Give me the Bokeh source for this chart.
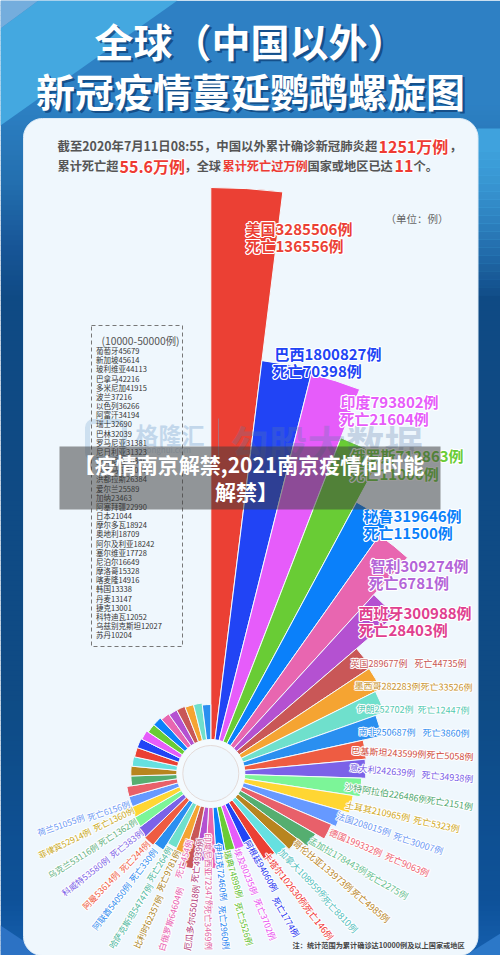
import numpy as np
from bokeh.plotting import figure, ColumnDataSource
from bokeh.core.properties import value
from bokeh.embed import file_html
from bokeh.resources import INLINE

# ---------- data ----------
countries = ["美国","巴西","印度","俄罗斯","秘鲁","智利","西班牙","英国","墨西哥","伊朗","南非","巴基斯坦",
             "意大利","沙特阿拉伯","土耳其","法国","德国","孟加拉","哥伦比亚","加拿大","卡塔尔","阿根廷","埃及","瑞典",
             "伊拉克","印度尼西亚","厄瓜多尔","白俄罗斯","比利时","哈萨克斯坦","阿联酋","阿曼","科威特","乌克兰","菲律宾","荷兰"]
cases = [3285506,1800827,793802,712863,319646,309274,300988,289677,282283,252702,250687,243599,
         242639,226486,210965,208015,199332,178443,133973,108959,102630,94060,80235,74898,
         72460,72347,65018,64604,62357,54747,54050,53614,53580,53116,52914,51055]
deaths = [136556,70398,21604,11000,11500,6781,28403,44735,33526,12447,3860,5058,
          34938,2151,5323,30007,9063,2275,4985,8810,146,1774,3702,5526,
          2960,3469,4939,454,9781,264,330,244,383,1362,1360,6156]
list_names = ["葡萄牙","新加坡","玻利维亚","巴拿马","多米尼加","波兰","以色列","阿富汗","瑞士","巴林","罗马尼亚","尼日利亚",
              "亚美尼亚","危地马拉","洪都拉斯","爱尔兰","加纳","阿塞拜疆","日本","摩尔多瓦","奥地利","阿尔及利亚","塞尔维亚",
              "尼泊尔","摩洛哥","喀麦隆","韩国","丹麦","捷克","科特迪瓦","乌兹别克斯坦","苏丹"]
list_cases = [45679,45614,44113,42216,41915,37216,36266,34194,32690,32039,31381,31323,
              30346,27037,26384,25589,23463,22990,21044,18924,18709,18242,17728,
              16649,15328,14916,13338,13147,13001,12052,12027,10204]
small_wedges = list_cases[:15]

# radial scale of the rose: case count -> pixel radius
scale_cases = cases + small_wedges
scale_px = [586,416,412,360,308,292,242,192,190,184,175,156,155,151,144,136,131,121,109,105,102,77,80,79,
            78,95,88,97,85,82,90,92,91,88,87,85,
            85,80,80,79,78,78,77,75,75,73,72,72,71,71,69]
palette = ["#EB4034","#2144F5","#E65CFA","#69CC35","#0A80FA","#E866B0","#B451D1","#C95757","#F5A432","#6FE0CC",
           "#2A8FF0","#EE5C42","#7B62E8","#7CF598","#FFD633","#6699FF","#E8606A","#55AE70","#B8851F","#66E0E0"]

# ---------- layout tables ----------
W, H = 500, 955
FONT = value("Noto Sans CJK SC")
CX, CY = 210.3, H - 773

top_colors = ["#EB4034","#2144F5","#E65CFA","#69CC35","#0A80FA","#B465D8","#E0408F"]
top_x1 = [245,274,340,350,363,370,358]; top_y1 = [228,353,401,455,515,565,612]
top_x2 = [245,272,339,349,363,368,358]; top_y2 = [245,370,418,473,532,582,629]

low_colors = ["#C85555","#C8922A","#4FC8B0","#2E8CF0","#D04A3C","#7A60E8","#4FA86F","#D0A820","#6A98F5","#EE6070",
              "#66C090","#B8851F","#50C0C0","#F03030","#2030F0","#E850F0","#60C030","#1A80F0","#E060A0","#B03878",
              "#E860B0","#A88018","#50B8A0","#2E8CF0","#F05A40","#7A60E8","#60B080","#C8A820","#6A98F5"]
low_x1 = [350,354,356,358,351,349,344,345,336,329,309,294,280,265,247,237,227,218,208,186,160,135,110,93,83,62,48,38,37]
low_y1 = [663,685,708,731,750,767,786,804,815,831,839,841,850,853,840,848,850,843,833,950,950,947,947,928,907,893,875,855,832]
low_x2 = [414,420,417,422,426,421,426,413,393,385,366,352,323,305,275,257,238,222,208,193,177,158,148,130,120,110,98,93,87]
low_y2 = [663,686,709,732,754,774,799,819,835,855,873,890,897,905,897,898,902,905,905,882,877,890,880,880,870,855,843,828,817]
low_ang = [0,-1,-1,-1,-3,-5,-9,-12,-18,-23,-30,-40,-46,-52,-60,-68,-74,-84,-89,82,73,65,58,52,46,38,32,26,19]

p = figure(width=W, height=H, x_range=(0, W), y_range=(0, H), toolbar_location=None,
           output_backend="svg", min_border=0)
p.axis.visible = False
p.grid.visible = False
p.outline_line_color = None
p.styles = {"position": "absolute", "left": "0", "top": "0"}

def put(x, y, text, color, size, bold=False, align="left", base="middle", angle=0.0, alpha=1.0):
    return p.text([x], [H - y], text=[text], text_color=color, text_font=FONT,
                  text_font_size=f"{size}px", text_font_style="bold" if bold else "normal",
                  text_align=align, text_baseline=base, angle=[np.radians(angle)], text_alpha=alpha)

def halo_text(x, y, text, color, size, bold=False, angle=0.0, d=1.0):
    for a in np.radians(np.arange(0, 360, 45)):
        put(x + d*np.cos(a), y + d*np.sin(a), text, "#FFFFFF", size, bold, angle=angle)
    put(x, y, text, color, size, bold, angle=angle)

# ---------- background ----------
stops_y = [0,100,180,250,300,700,900,955]
stops_c = [(0x2F,0x80,0xC4),(0x2E,0x82,0xC5),(0x24,0x70,0xB0),(0x17,0x55,0x96),(0x0F,0x4A,0x84),(0x0F,0x4C,0x86),(0x0E,0x52,0x99),(0x16,0x60,0xB0)]
ys = np.arange(0, H, 5)
cols = []
for yy in ys:
    c = [int(np.interp(yy + 2.5, stops_y, [s[i] for s in stops_c])) for i in range(3)]
    cols.append("#%02X%02X%02X" % tuple(c))
p.quad(left=0, right=W, top=H - ys, bottom=H - ys - 5.5, fill_color=cols, line_color=None)

p.patch([38,177,0,0],[H,H,H-125,H-28], fill_color="#44A8E0", line_color=None)
p.patch([0,38,0],[H,H,H-28], fill_color="#74ADDD", line_color=None)
for i, a in enumerate(np.linspace(0.95, 0.0, 20)):
    top = 143 + i * 8
    p.quad(left=477, right=W, top=H - top if i else H - 128, bottom=H - top - 8.5,
           fill_color="#40A4DE", fill_alpha=float(a), line_color=None)
p.patch([0,45,0],[0,0,30], fill_color="#2C72C4", line_color=None)
p.patch([W,W-35,W],[0,0,22], fill_color="#2C78C8", line_color=None)

# ---------- panel ----------
def rounded(l, r, t, b, rad):
    xs, yy = [], []
    for cx, cy, a0 in [(r-rad, t+rad, -90), (r-rad, b-rad, 0), (l+rad, b-rad, 90), (l+rad, t+rad, 180)]:
        for a in np.radians(np.linspace(a0, a0+90, 14)):
            xs.append(cx + rad*np.cos(a)); yy.append(H - (cy + rad*np.sin(a)))
    return xs, yy
px_, py_ = rounded(23, 477.5, 118, 955, 19)
p.patch(px_, py_, fill_color="#EFF7FD", line_color="#DDEBF6", line_width=1)

# ---------- title ----------
for txt, ty in [("全球（中国以外）", 39), ("新冠疫情蔓延鹦鹉螺旋图", 89)]:
    tx = 94 if ty == 39 else 35.5
    put(tx+2.5, ty+2.5, txt, "#0B3A70", 39, True, alpha=0.7)
    put(tx, ty, txt, "#FFFFFF", 39, True)

# ---------- intro text ----------
INK = "#555555"
put(57, 145, "截至2020年7月11日08:55，中国以外累计确诊新冠肺炎超", INK, 12.4, True)
halo_text(378, 145, "1251万例", "#EE3B33", 16, True)
put(449, 145, "，", INK, 12.4, True)
put(57, 165, "累计死亡超", INK, 12.2, True)
halo_text(119, 165, "55.6万例", "#EE3B33", 16, True)
put(184, 165, "，全球", INK, 12.2, True)
put(222, 165, "累计死亡过万例", "#EE3B33", 12.2, True)
put(307, 165, "国家或地区已达", INK, 12.2, True)
halo_text(394, 165, "11", "#EE3B33", 16, True)
put(413, 165, "个。", INK, 12.2, True)
put(385, 218, "（单位：例）", "#666666", 10.5)

# ---------- watermark ----------
p.quad(left=87, right=124, top=H-421, bottom=H-458, fill_color=None, line_color="#BFD5EA", line_width=5, line_alpha=0.7, border_radius=6)
put(135, 433, "格隆汇", "#B4CDE6", 23, True, alpha=0.75)
put(135, 449, "gelonghui.com", "#B4CDE6", 8, alpha=0.7)

# ---------- rose ----------
order = np.argsort(scale_cases)
scale = lambda v: np.interp(v, np.asarray(scale_cases)[order], np.asarray(scale_px, dtype=float)[order])
wedge_vals = cases + small_wedges
n = len(wedge_vals)
step = 2 * np.pi / n
src = ColumnDataSource(dict(
    x=[CX]*n, y=[CY]*n, inner=[34.0]*n, outer=[float(scale(v)) for v in wedge_vals],
    start=[np.pi/2 - (i+1)*step for i in range(n)], end=[np.pi/2 - i*step for i in range(n)],
    color=[palette[i % len(palette)] for i in range(n)]))
p.annular_wedge(x="x", y="y", inner_radius="inner", outer_radius="outer", start_angle="start", end_angle="end",
                fill_color="color", line_color="#F4FAFE", line_width=1, source=src)
p.circle(x=[CX], y=[CY], radius=34, fill_color="#F4FAFE", line_color=None)
p.circle(x=[CX], y=[CY], radius=28, fill_color="#EFF7FD", line_color="#E3DAD8", line_width=1)

put(230, 441, "勾股大数据", "#5A7BA8", 38.5, True, alpha=0.28)
p.segment([218],[H-418],[218],[H-462], line_color="#7E97B8", line_alpha=0.5, line_width=1)

# ---------- labels ----------
for i in range(7):
    halo_text(top_x1[i], top_y1[i], f"{countries[i]}{cases[i]}例", top_colors[i], 15, True, d=1.2)
    halo_text(top_x2[i], top_y2[i], f"死亡{deaths[i]}例", top_colors[i], 15, True, d=1.2)
for j in range(len(low_x1)):
    i = j + 7
    size = 9 if j < 14 else 8.5
    halo_text(low_x1[j], low_y1[j], f"{countries[i]}{cases[i]}例", low_colors[j], size, angle=low_ang[j], d=1.1)
    halo_text(low_x2[j], low_y2[j], f"死亡{deaths[i]}例", low_colors[j], size, angle=low_ang[j], d=1.1)

# ---------- side list ----------
p.quad(left=91, right=182, top=H-325, bottom=H-646, fill_color=None, line_color="#777777", line_dash="4 3", line_width=1)
put(101, 340, "(10000-50000例)", "#555555", 10.3)
for i, (nm, cs) in enumerate(zip(list_names, list_cases)):
    put(95.5, 350 + i * 9.17, f"{nm}{cs}", "#333333", 7.5)

put(292, 944, "注：统计范围为累计确诊达10000例及以上国家或地区", "#444444", 7.2, True)

# ---------- overlay headline ----------
p.quad(left=59, right=440, top=H-446, bottom=H-509, fill_color="#3C3C3C", fill_alpha=0.52, line_color=None)
put(248.5, 463, "【疫情南京解禁,2021南京疫情何时能", "#FFFFFF", 21, True, align="center")
put(246, 490, "解禁】", "#FFFFFF", 21, True, align="center")

open("out.html", "w").write(file_html(p, INLINE))
